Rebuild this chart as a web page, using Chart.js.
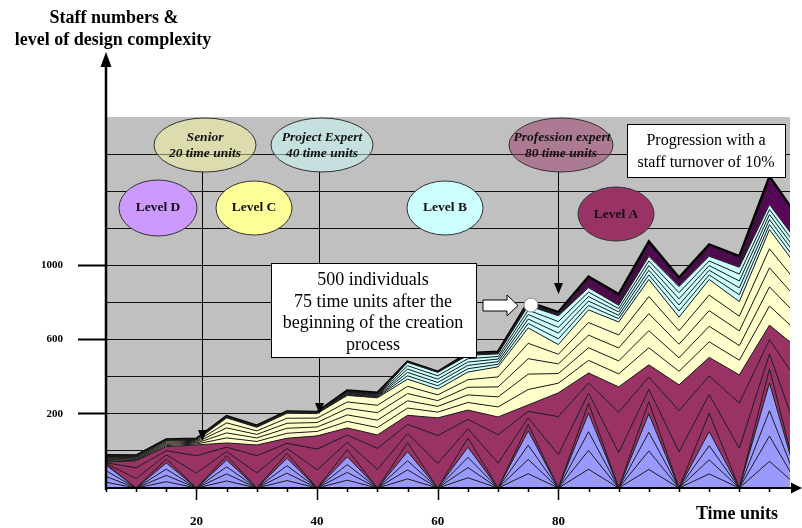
<!DOCTYPE html>
<html><head><meta charset="utf-8">
<script src="https://cdn.jsdelivr.net/npm/chart.js@4.4.0/dist/chart.umd.min.js"></script>
<style>html,body{margin:0;padding:0;background:#fff;overflow:hidden}#wrap{width:802px;height:528px;position:relative}</style>
</head><body><div id="wrap"><canvas id="c" width="802" height="528"></canvas></div>
<script>
// ---- data (time units on x, staff numbers on y) ----
const timeUnits = [5,10,15,20,25,30,35,40,45,50,55,60,65,70,75,80,85,90,95,100,105,110,115,120];
const xTickValues = [5,10,15,20,25,30,35,40,45,50,55,60,65,70,75,80,85,90,95,100,105,110,115];
const xTickLabels = {20:'20',40:'40',60:'60',80:'80'};
const yGridValues = [0,200,400,600,800,1000,1200,1400,1600,1800,2000];
const yTickLabels = {400:'200',800:'600',1200:'1000'};

// Level D cohorts (blue)
const blue1 = [31,0,34,0,38,0,40,0,42,0,49,0,55,0,77,0,101,0,100,0,76,0,144,0];
const blue2 = [31,0,34,0,38,0,40,0,42,0,49,0,55,0,77,0,101,0,100,0,76,0,136,0];
const blue3 = [31,0,34,0,38,0,40,0,42,0,49,0,55,0,77,0,101,0,100,0,76,0,136,0];
const blue4 = [31,0,33,0,37,0,40,0,42,0,49,0,55,0,77,0,101,0,100,0,76,0,150,0];
// Level A cohorts (maroon)
const maroon1 = [4,0,22,0,23,0,27,0,39,0,49,0,50,0,35,0,54,0,66,0,100,0,78,0];
const maroon2 = [4,51,22,81,23,81,27,98,39,100,49,132,50,134,35,180,54,191,66,195,100,214,78,261];
const maroon3 = [4,58,22,93,23,93,27,112,39,114,49,151,50,153,35,205,54,218,66,222,100,244,78,298];
const maroon4 = [4,37,22,58,23,58,27,71,39,72,49,95,50,96,35,128,54,136,66,139,100,152,78,186];
// Level C cohorts (yellow)
const yellow1 = [4,4,6,5,27,19,27,24,35,40,39,31,41,54,83,52,68,70,92,73,84,79,103,86];
const yellow2 = [4,4,6,5,27,19,27,24,35,40,39,31,41,54,83,52,68,70,92,73,84,79,103,86];
const yellow3 = [4,4,6,5,27,19,27,24,35,40,39,31,41,54,83,52,68,70,92,73,84,79,103,86];
const yellow4 = [4,4,6,5,27,19,27,24,35,40,39,31,41,54,83,52,68,70,92,73,84,79,103,86];
const yellow5 = [4,4,6,5,27,19,27,24,35,40,39,31,41,54,83,52,68,70,92,73,84,79,103,86];
// Level B cohorts (light cyan)
const cyan1 = [1,1,1,1,1,1,1,1,3,3,18,18,18,14,24,31,24,18,25,33,25,37,27,27];
const cyan2 = [1,1,1,1,1,1,1,1,3,3,18,18,18,14,24,31,24,18,25,33,25,37,27,27];
const cyan3 = [1,1,1,1,1,1,1,1,3,3,18,18,18,14,24,31,24,18,25,33,25,37,27,27];
const cyan4 = [1,1,1,1,1,1,1,1,3,3,18,18,18,14,24,31,24,18,25,33,25,37,27,27];
const cyan5 = [1,1,1,1,1,1,1,1,3,3,18,18,18,14,24,31,24,18,25,33,25,37,27,27];
// top cohorts (dark purple)
const purple1 = [3,1,1,1,1,1,1,1,3,3,1,1,3,3,5,5,15,15,20,12,16,15,38,34];
const purple2 = [3,1,1,1,1,1,1,1,3,3,1,1,3,3,5,5,15,15,20,12,16,15,38,34];
const purple3 = [3,1,1,1,1,1,1,1,3,3,1,1,3,3,5,5,15,15,20,12,16,15,38,34];
const purple4 = [3,1,1,1,1,1,1,1,3,3,1,1,3,3,5,5,15,15,20,12,16,15,38,34];

const seriesList = [
  [blue1,'#9999FF'],[blue2,'#9999FF'],[blue3,'#9999FF'],[blue4,'#9999FF'],
  [maroon1,'#993366'],[maroon2,'#993366'],[maroon3,'#993366'],[maroon4,'#993366'],
  [yellow1,'#FFFFCC'],[yellow2,'#FFFFCC'],[yellow3,'#FFFFCC'],[yellow4,'#FFFFCC'],[yellow5,'#FFFFCC'],
  [cyan1,'#CCFFFF'],[cyan2,'#CCFFFF'],[cyan3,'#CCFFFF'],[cyan4,'#CCFFFF'],[cyan5,'#CCFFFF'],
  [purple1,'#660066'],[purple2,'#660066'],[purple3,'#660066'],[purple4,'#660066']
];

const SERIF = "'Liberation Serif','Times New Roman',serif";
Chart.defaults.font.family = SERIF;

const datasets = seriesList.map(([arr,col],i)=>({
  data: timeUnits.map((t,k)=>({x:t,y:arr[k]})),
  backgroundColor: col,
  borderColor: i===seriesList.length-1 ? '#000' : '#1a1a1a',
  borderWidth: i===seriesList.length-1 ? 2.5 : 1,
  fill: i===0 ? 'origin' : '-1',
  pointRadius: 0,
  tension: 0
}));

function ell(ctx,cx,cy,rx,ry,fill){
  ctx.beginPath(); ctx.ellipse(cx,cy,rx,ry,0,0,Math.PI*2);
  ctx.fillStyle=fill; ctx.fill();
  ctx.lineWidth=1; ctx.strokeStyle='#333'; ctx.stroke();
}
function txt(ctx,s,x,y,font,color){
  ctx.font=font; ctx.fillStyle=color||'#000'; ctx.textAlign='center'; ctx.textBaseline='middle';
  ctx.fillText(s,x,y);
}
function vArrow(ctx,x,y1,tip){
  ctx.strokeStyle='#000'; ctx.lineWidth=1;
  ctx.beginPath(); ctx.moveTo(x+0.5,y1); ctx.lineTo(x+0.5,tip-8); ctx.stroke();
  ctx.fillStyle='#000'; ctx.beginPath();
  ctx.moveTo(x+0.5,tip); ctx.lineTo(x-4,tip-11); ctx.lineTo(x+5,tip-11); ctx.closePath(); ctx.fill();
}

const bg = {
  id:'bg',
  beforeDraw(chart){
    const a=chart.chartArea, ctx=chart.ctx;
    ctx.save(); ctx.fillStyle='#fff'; ctx.fillRect(0,0,chart.width,chart.height);
    ctx.fillStyle='#C0C0C0'; ctx.fillRect(a.left,a.top,a.right-a.left,a.bottom-a.top); ctx.restore();
  }
};

const annot = {
  id:'annot',
  afterDraw(chart){
    const ctx=chart.ctx, a=chart.chartArea, xs=chart.scales.x;
    ctx.save();
    // x ticks
    ctx.strokeStyle='#000'; ctx.lineWidth=1.5;
    xTickValues.forEach(v=>{
      const px=Math.round(xs.getPixelForValue(v))+0.5;
      const len = xTickLabels[v] ? 12 : 4;
      ctx.beginPath(); ctx.moveTo(px,a.bottom); ctx.lineTo(px,a.bottom+len); ctx.stroke();
    });
    // axes with arrows
    ctx.strokeStyle='#000'; ctx.lineWidth=2.5;
    ctx.beginPath(); ctx.moveTo(a.left,a.bottom+2); ctx.lineTo(a.left,62); ctx.stroke();
    ctx.fillStyle='#000';
    ctx.beginPath(); ctx.moveTo(a.left,52); ctx.lineTo(a.left-5.5,67); ctx.lineTo(a.left+5.5,67); ctx.closePath(); ctx.fill();
    ctx.lineWidth=2;
    ctx.beginPath(); ctx.moveTo(a.left-1,a.bottom); ctx.lineTo(794,a.bottom); ctx.stroke();
    ctx.beginPath(); ctx.moveTo(802,a.bottom); ctx.lineTo(791,a.bottom-5.5); ctx.lineTo(791,a.bottom+5.5); ctx.closePath(); ctx.fill();

    // titles
    const tb = "bold 18px "+SERIF;
    txt(ctx,'Staff numbers &',114,18,tb);
    txt(ctx,'level of design complexity',113,40,tb);
    txt(ctx,'Time units',737,514,tb);

    // pointer arrows
    vArrow(ctx,202,172,441);
    vArrow(ctx,319,172,414);
    vArrow(ctx,558,172,294);

    // ellipses
    const bi = "italic bold 13.5px "+SERIF, b = "bold 13.5px "+SERIF;
    ell(ctx,205,145,51,27,'rgba(255,255,153,0.45)');
    txt(ctx,'Senior',205,138,bi,'#111'); txt(ctx,'20 time units',205,154,bi,'#111');
    ell(ctx,322,145,51,27,'rgba(204,255,255,0.5)');
    txt(ctx,'Project Expert',322,138,bi,'#111'); txt(ctx,'40 time units',322,154,bi,'#111');
    ell(ctx,561,145,52,27,'rgba(153,51,102,0.5)');
    txt(ctx,'Profession expert',562,138,bi,'#111'); txt(ctx,'80 time units',561,154,bi,'#111');
    ell(ctx,158,208,39,28,'#CC99FF'); txt(ctx,'Level D',158,208,b,'#111');
    ell(ctx,254,208,38,27,'#FFFF99'); txt(ctx,'Level C',254,208,b,'#111');
    ell(ctx,445,208,38,27,'#CCFFFF'); txt(ctx,'Level B',445,208,b,'#111');
    ell(ctx,616,214,38,27,'#993366'); txt(ctx,'Level A',616,215,b,'#111');

    // text boxes
    ctx.fillStyle='#fff'; ctx.strokeStyle='#000'; ctx.lineWidth=1;
    ctx.fillRect(627,124,158,53); ctx.strokeRect(627.5,124.5,158,53);
    const r16 = "16px "+SERIF;
    txt(ctx,'Progression with a',706,141,r16); txt(ctx,'staff turnover of 10%',706,163,r16);
    ctx.fillStyle='#fff'; ctx.fillRect(271,263,205,94); ctx.strokeRect(271.5,263.5,205,94);
    const r18 = "18px "+SERIF;
    txt(ctx,'500 individuals',373,280,r18);
    txt(ctx,'75 time units after the',373,302,r18);
    txt(ctx,'beginning of the creation',373,323,r18);
    txt(ctx,'process',373,345,r18);

    // block arrow + circle
    ctx.beginPath();
    ctx.moveTo(483,300); ctx.lineTo(507,300); ctx.lineTo(507,295); ctx.lineTo(518,305.5);
    ctx.lineTo(507,316); ctx.lineTo(507,311); ctx.lineTo(483,311); ctx.closePath();
    ctx.fillStyle='#fff'; ctx.fill(); ctx.strokeStyle='#000'; ctx.lineWidth=1; ctx.stroke();
    ctx.beginPath(); ctx.arc(531,305,7,0,Math.PI*2); ctx.fillStyle='#fff'; ctx.fill();
    ctx.strokeStyle='#888'; ctx.stroke();
    ctx.restore();
  }
};

new Chart(document.getElementById('c'),{
  type:'line',
  data:{datasets},
  options:{
    responsive:false, animation:false, devicePixelRatio:1,
    layout:{padding:{top:117,right:12,left:0,bottom:0}},
    plugins:{legend:{display:false},tooltip:{enabled:false}},
    scales:{
      x:{type:'linear',min:5,max:118.4,
        afterBuildTicks:s=>{s.ticks=xTickValues.map(v=>({value:v}));},
        afterFit:s=>{s.height=40;},
        grid:{display:false,drawTicks:true,tickLength:12},
        border:{display:false},
        ticks:{callback:v=>xTickLabels[v]||'',autoSkip:false,maxRotation:0,padding:14,color:'#000',
          font:{family:SERIF,weight:'bold',size:13}}
      },
      y:{stacked:true,min:0,max:2000,
        afterBuildTicks:s=>{s.ticks=yGridValues.map(v=>({value:v}));},
        afterFit:s=>{s.width=106;},
        grid:{color:c=>(c.tick&&c.tick.value===2000)?'rgba(0,0,0,0)':'#111',lineWidth:1,tickLength:28,
          tickWidth:2,tickColor:c=>(c.tick&&yTickLabels[c.tick.value])?'#000':'rgba(0,0,0,0)'},
        border:{display:false},
        ticks:{callback:v=>yTickLabels[v]||'',padding:15,color:'#000',autoSkip:false,
          font:{family:SERIF,weight:'bold',size:11}}
      }
    }
  },
  plugins:[bg,annot]
});
</script></body></html>
